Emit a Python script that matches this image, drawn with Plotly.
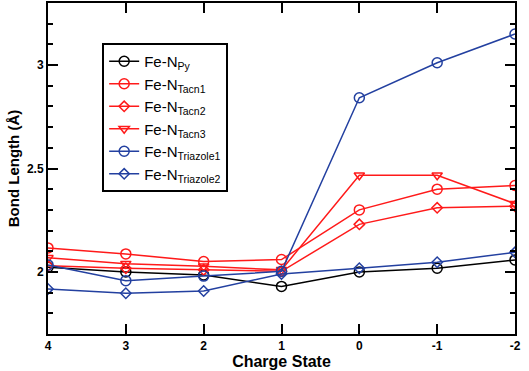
import plotly.graph_objects as go

charge = [4, 3, 2, 1, 0, -1, -2]
fe_n_py = [2.023, 2.000, 1.985, 1.930, 2.000, 2.018, 2.058]
fe_n_tacn1 = [2.116, 2.087, 2.050, 2.060, 2.300, 2.400, 2.418]
fe_n_tacn2 = [2.030, 2.018, 2.010, 2.003, 2.230, 2.310, 2.318]
fe_n_tacn3 = [2.068, 2.040, 2.027, 2.010, 2.467, 2.467, 2.330]
fe_n_triazole1 = [2.034, 1.958, 1.980, 2.003, 2.842, 3.011, 3.150]
fe_n_triazole2 = [1.918, 1.897, 1.908, 1.990, 2.018, 2.047, 2.095]

RED = "#ff1a1a"
BLUE = "#2340a0"
FONT = "Liberation Sans, Arial, sans-serif"

series = [
    ("Fe-N<sub>Py</sub>", fe_n_py, "black", "circle-open", 10),
    ("Fe-N<sub>Tacn1</sub>", fe_n_tacn1, RED, "circle-open", 10),
    ("Fe-N<sub>Tacn2</sub>", fe_n_tacn2, RED, "diamond-open", 8),
    ("Fe-N<sub>Tacn3</sub>", fe_n_tacn3, RED, "triangle-down-open", 9),
    ("Fe-N<sub>Triazole1</sub>", fe_n_triazole1, BLUE, "circle-open", 10),
    ("Fe-N<sub>Triazole2</sub>", fe_n_triazole2, BLUE, "diamond-open", 8),
]

fig = go.Figure()
for name, vals, color, sym, size in series:
    fig.add_trace(go.Scatter(
        x=charge, y=vals, name=name, mode="lines+markers",
        line=dict(color=color, width=1.5),
        marker=dict(symbol=sym, size=size, color=color, line=dict(color=color, width=1.5)),
    ))

fig.update_layout(
    width=529, height=371,
    margin=dict(l=48, r=14, t=3, b=37),
    paper_bgcolor="white", plot_bgcolor="white",
    font=dict(family=FONT, color="black"),
    showlegend=True,
    legend=dict(
        x=0.116, y=0.879, xanchor="left", yanchor="top",
        bordercolor="black", borderwidth=2, bgcolor="white",
        font=dict(size=15), tracegroupgap=0, itemwidth=30,
    ),
)
fig.update_xaxes(
    range=[4, -2], tickvals=charge, ticktext=[str(c) for c in charge],
    showgrid=False, zeroline=False, automargin=False,
    showline=True, linecolor="black", linewidth=2, mirror="ticks",
    ticks="inside", ticklen=10, tickwidth=1.5, tickcolor="black",
    tickfont=dict(size=12, family=FONT, weight="bold"),
    title=dict(text="<b>Charge State</b>", font=dict(size=16), standoff=2),
)
fig.update_yaxes(
    range=[1.7, 3.3], tickvals=[2, 2.5, 3], ticktext=["2", "2.5", "3"],
    showgrid=False, zeroline=False, automargin=False,
    showline=True, linecolor="black", linewidth=2, mirror="ticks",
    ticks="inside", ticklen=10, tickwidth=1.5, tickcolor="black",
    minor=dict(ticks="inside", ticklen=5, tickwidth=1.5, tickcolor="black", dtick=0.1, tick0=0, showgrid=False),
    tickfont=dict(size=12, family=FONT, weight="bold"),
    title=dict(text="<b>Bond Length (Å)</b>", font=dict(size=15), standoff=4),
)

fig.write_html(
    "out.html",
    config={"displayModeBar": False},
    post_script="document.body.style.margin='0';document.body.style.overflow='hidden';",
)
